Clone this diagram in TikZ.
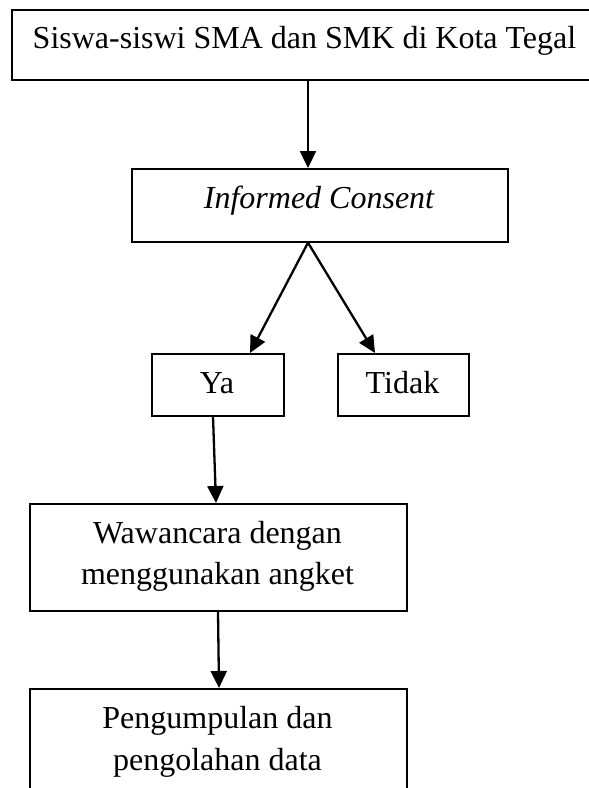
\documentclass[tikz,border=0pt]{standalone}
\usepackage{fontspec}
\setmainfont{Liberation Serif}
\usetikzlibrary{arrows.meta}
\begin{document}
\begin{tikzpicture}[x=1pt,y=-1pt,
  box/.style={draw=black,line width=1.7pt,rectangle,inner sep=0pt,anchor=north west},
  txt/.style={anchor=base,inner sep=0pt,font=\fontsize{32}{41}\selectfont},
  arr/.style={line width=2.3pt,-{Triangle[length=17pt,width=16pt]}}]
\useasboundingbox (0,0) rectangle (589,788);
\clip (0,0) rectangle (589,788);
\fill[white] (0,0) rectangle (589,788);
% boxes
\node[box,minimum width=587pt,minimum height=70pt] (top) at (11,9) {};
\node[box,minimum width=376pt,minimum height=73pt] (info) at (131,168) {};
\node[box,minimum width=132pt,minimum height=62pt] (ya) at (151,353) {};
\node[box,minimum width=131pt,minimum height=62pt] (tidak) at (337,353) {};
\node[box,minimum width=377pt,minimum height=107pt] (waw) at (29,503) {};
\node[box,minimum width=377pt,minimum height=140pt] (peng) at (29,688) {};
% texts
\node[txt] (toptext) at (304.5,48) {Siswa-siswi SMA dan SMK di Kota Tegal};
\node[txt] (infotext) at (319,208) {\itshape Informed Consent};
\node[txt] (yatext) at (217,393) {Ya};
\node[txt] (tidaktext) at (402.5,393) {Tidak};
\node[txt] (wawtext1) at (217.5,543) {Wawancara dengan};
\node[txt] (wawtext2) at (217.5,584) {menggunakan angket};
\node[txt] (pengtext1) at (217.5,728) {Pengumpulan dan};
\node[txt] (pengtext2) at (217.5,770) {pengolahan data};
% arrows
\draw[arr] (top.south -| 308,0) -- (info.north -| 308,0);
\draw[arr] (info.south -| 308,0) -- (ya.north -| 250,0);
\draw[arr] (info.south -| 308,0) -- (tidak.north -| 375,0);
\draw[arr] (ya.south -| 213,0) -- (waw.north -| 216,0);
\draw[arr] (waw.south -| 218,0) -- (peng.north -| 219,0);
\end{tikzpicture}
\end{document}
